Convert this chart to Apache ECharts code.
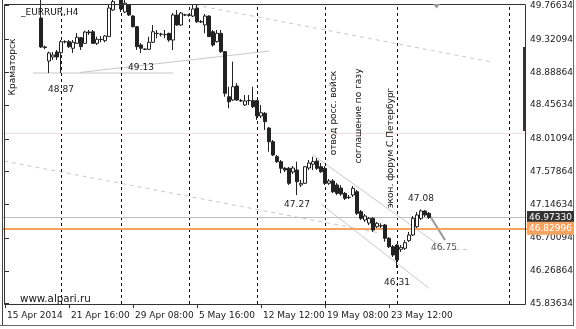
<!DOCTYPE html>
<html><head><meta charset="utf-8">
<script src="https://cdn.jsdelivr.net/npm/echarts@6/dist/echarts.min.js"></script>
<style>html,body{margin:0;padding:0;background:#fff}#c{width:576px;height:329px}</style>
</head><body><div id="c"></div>
<script>
const opens  = [50.05,50.00,49.97,49.93,49.96,49.99,49.95,49.92,49.94,49.604,49.222,49.037,49.090,49.156,49.147,49.292,49.292,49.205,49.270,49.344,49.270,49.419,49.423,49.270,49.323,49.305,49.358,49.710,49.82,49.84,49.683,49.776,49.630,49.489,49.248,49.195,49.191,49.284,49.402,49.389,49.384,49.402,49.314,49.644,49.512,49.644,49.644,49.630,49.736,49.555,49.512,49.630,49.423,49.292,49.402,49.160,48.566,48.523,48.707,48.514,48.457,48.514,48.514,48.514,48.312,48.347,48.153,47.973,47.775,47.709,47.622,47.622,47.573,47.600,47.402,47.424,47.626,47.675,47.718,47.643,47.622,47.424,47.455,47.402,47.362,47.292,47.239,47.270,47.313,47.050,46.940,46.900,46.962,46.852,46.865,46.874,46.699,46.588,46.610,46.554,46.567,46.667,46.742,46.852,46.962,47.059,47.028];
const closes = [50.00,49.97,49.93,49.96,49.99,49.95,49.92,49.94,49.90,49.222,49.216,49.143,49.116,49.090,49.292,49.290,49.226,49.284,49.350,49.226,49.419,49.410,49.270,49.323,49.320,49.367,49.736,49.82,49.85,49.723,49.80,49.644,49.489,49.226,49.205,49.191,49.284,49.423,49.400,49.392,49.386,49.314,49.644,49.512,49.670,49.646,49.640,49.723,49.555,49.552,49.630,49.358,49.248,49.402,49.160,48.611,48.500,48.698,48.523,48.512,48.510,48.516,48.434,48.312,48.355,48.237,47.973,47.797,47.709,47.622,47.600,47.424,47.626,47.445,47.424,47.643,47.692,47.709,47.622,47.577,47.424,47.455,47.313,47.292,47.283,47.226,47.237,47.358,47.028,46.962,46.993,46.962,46.808,46.897,46.863,46.699,46.588,46.479,46.413,46.580,46.641,46.742,46.962,47.006,47.059,47.006,46.973];
const lows   = [49.95,49.90,49.82,49.88,49.92,49.90,49.86,49.87,49.85,49.209,49.191,48.879,49.050,49.050,48.879,49.270,49.209,49.143,49.261,49.182,49.270,49.380,49.261,49.248,49.284,49.284,49.354,49.70,49.80,49.683,49.67,49.630,49.480,49.182,49.143,49.180,49.182,49.274,49.336,49.360,49.336,49.290,49.182,49.500,49.500,49.630,49.620,49.617,49.538,49.538,49.402,49.354,49.226,49.280,49.143,48.566,48.413,48.510,48.510,48.496,48.444,48.457,48.417,48.259,48.285,48.127,47.841,47.784,47.692,47.556,47.573,47.402,47.547,47.270,47.375,47.415,47.600,47.600,47.600,47.560,47.402,47.402,47.296,47.270,47.260,47.204,47.217,47.243,47.006,46.940,46.914,46.874,46.782,46.835,46.835,46.654,46.571,46.452,46.307,46.518,46.544,46.650,46.729,46.835,46.940,46.980,46.953];
const highs  = [50.10,50.06,50.02,50.00,50.04,50.03,49.98,49.99,49.97,49.85,49.240,49.160,49.156,49.182,49.314,49.310,49.314,49.314,49.406,49.354,49.437,49.446,49.446,49.358,49.367,49.380,49.776,49.86,49.90,49.88,49.85,49.790,49.644,49.500,49.274,49.200,49.358,49.512,49.446,49.410,49.446,49.410,49.670,49.710,49.683,49.660,49.660,49.776,49.776,49.578,49.657,49.640,49.446,49.446,49.446,49.170,48.698,49.028,48.747,48.536,48.589,48.589,48.698,48.523,48.457,48.364,48.167,47.995,47.797,47.731,47.639,47.639,47.652,47.709,47.468,47.652,47.731,47.775,47.757,47.692,47.652,47.481,47.481,47.428,47.400,47.309,47.270,47.389,47.336,47.072,47.019,46.980,46.980,46.914,46.897,46.887,46.716,46.610,46.624,46.610,46.676,46.782,46.993,47.046,47.080,47.072,47.046];

const tickIndex  = [0,16,32,48,64,80,96];
const tickLabels = ['15 Apr 2014','21 Apr 16:00','29 Apr 08:00','5 May 16:00','12 May 12:00','19 May 08:00','23 May 12:00'];
const priceTicks = [49.76634,49.32094,48.88864,48.45634,48.01094,47.57864,47.14634,46.70094,46.26864,45.83634];
const separatorBars = [14,29,46,63,80,98,126];
const bidPrice = 46.97330, askPrice = 46.82996;
const pinkLevel = 48.0875;
const barCount = 131;
const yMin = 45.8323, yMax = 49.7888;

// annotation lines: [[bar, price],[bar, price]]
const supportLine   = [[7,48.879],[42,48.879]];
const risingLine    = [[18.75,48.886],[66,49.169]];
const upperDashed   = [[47.5,49.776],[121.75,49.024]];
const lowerDashed   = [[-0.25,47.718],[93.75,46.769]];
const channelUpper  = [[77,47.797],[110,46.55]];
const channelLower  = [[79,47.15],[106,46.04]];
const projection    = [[106.25,46.993],[110,46.676]];
const projLevel     = [[106.5,46.55],[116,46.55]];

const categories = Array.from({length: barCount}, (_, i) => String(i));
const candles = opens.map((o, i) => [o, closes[i], lows[i], highs[i]]);

const FONT = 'DejaVu Sans';
const chart = echarts.init(document.getElementById('c'), null, {renderer: 'canvas'});

function lineSeries(data, color, width, type) {
  return {type: 'line', xAxisIndex: 1, yAxisIndex: 0, data: data, showSymbol: false, silent: true,
    lineStyle: {color: color, width: width, type: type}, z: 1, animation: false, clip: true};
}

chart.setOption({
  animation: false,
  backgroundColor: '#fff',
  grid: {left: 3, width: 524, top: 4, height: 300, containLabel: false},
  xAxis: [{
    type: 'category', data: categories, boundaryGap: true,
    axisLine: {show: false},
    axisTick: {show: true, alignWithLabel: true, length: 4, interval: (i) => tickIndex.includes(i), lineStyle: {color: '#333'}},
    axisLabel: {show: true, interval: (i) => tickIndex.includes(i), formatter: (v, i) => { const k = tickIndex.indexOf(Number(v)); return k >= 0 ? tickLabels[k] : ''; },
      align: 'left', margin: 7, padding: [0,0,0,2], fontFamily: FONT, fontSize: 9, color: '#1a1a1a', hideOverlap: false},
    splitLine: {show: false}
  }, {
    type: 'value', min: -0.5, max: barCount - 0.5, show: false
  }],
  yAxis: [{
    type: 'value', position: 'right', min: yMin, max: yMax, offset: -2, scale: true,
    axisLine: {show: false},
    axisTick: {show: true, length: 4, customValues: priceTicks, lineStyle: {color: '#333'}},
    axisLabel: {show: true, customValues: priceTicks, formatter: (v) => v.toFixed(5), margin: 5, fontFamily: FONT, fontSize: 9, color: '#1a1a1a'},
    splitLine: {show: false}
  }],
  series: [
    {
      type: 'candlestick', data: candles, barWidth: 3, clip: true, z: 5,
      itemStyle: {color: '#fff', color0: '#222', borderColor: '#222', borderColor0: '#222', borderColorDoji: '#222', borderWidth: 1},
      markLine: {
        silent: true, symbol: 'none', label: {show: false}, animation: false,
        data: [
          ...separatorBars.map(b => ({xAxis: b, lineStyle: {color: '#111', type: [3,3], width: 1}})),
          {yAxis: pinkLevel, lineStyle: {color: '#f7dcdc', type: 'solid', width: 1}},
          {yAxis: bidPrice, lineStyle: {color: '#c0c0c0', type: 'solid', width: 1}},
          {yAxis: askPrice, lineStyle: {color: '#f4a460', type: 'solid', width: 2}}
        ]
      }
    },
    lineSeries(supportLine, '#c8c8c8', 1, 'solid'),
    lineSeries(risingLine, '#c8c8c8', 1, 'solid'),
    lineSeries(upperDashed, '#c8c8c8', 1, [4,4]),
    lineSeries(lowerDashed, '#c8c8c8', 1, [4,4]),
    lineSeries(channelUpper, '#c8c8c8', 1, 'solid'),
    lineSeries(channelLower, '#c8c8c8', 1, 'solid'),
    lineSeries(projection, '#999', 2, 'solid'),
    lineSeries(projLevel, '#c8c8c8', 1, [4,4])
  ]
});

const yb = chart.convertToPixel({yAxisIndex: 0}, bidPrice);
const ya = chart.convertToPixel({yAxisIndex: 0}, askPrice);

function txt(x, y, s, opt) {
  return Object.assign({type: 'text', x: x, y: y, z: 40, zlevel: 0, silent: true,
    style: Object.assign({text: s, fill: '#1a1a1a', font: '9px "DejaVu Sans"', align: 'center', verticalAlign: 'middle'}, opt || {})});
}
function vtxt(x, y, s) {
  return {type: 'text', x: x, y: y, rotation: Math.PI / 2, z: 40, silent: true,
    style: {text: s, fill: '#111', font: '9px "DejaVu Sans"', align: 'center', verticalAlign: 'middle'}};
}

chart.setOption({
  graphic: [
    {type: 'rect', shape: {x: 4.5, y: 4.5, width: 521, height: 300}, style: {fill: 'none', stroke: '#333', lineWidth: 1}, z: 30, silent: true},
    {type: 'line', shape: {x1: 2.5, y1: 0, x2: 2.5, y2: 326}, style: {stroke: '#444', lineWidth: 1}, z: 30, silent: true},
    {type: 'line', shape: {x1: 573.5, y1: 0, x2: 573.5, y2: 326}, style: {stroke: '#666', lineWidth: 1}, z: 30, silent: true},
    {type: 'line', shape: {x1: 0, y1: 325.5, x2: 574, y2: 325.5}, style: {stroke: '#666', lineWidth: 1}, z: 30, silent: true},
    {type: 'rect', shape: {x: 523, y: 47, width: 3, height: 84}, style: {fill: '#333'}, z: 30, silent: true},
    {type: 'polygon', shape: {points: [[433, 4], [440, 4], [436.5, 8.5]]}, style: {fill: '#999'}, z: 30, silent: true},
    {type: 'rect', shape: {x: 527, y: yb - 6.5, width: 47, height: 13}, style: {fill: '#333'}, z: 31, silent: true},
    {type: 'rect', shape: {x: 527, y: ya - 6.5, width: 47, height: 13}, style: {fill: '#f4a460'}, z: 31, silent: true},
    txt(550.5, yb, bidPrice.toFixed(5), {fill: '#fff'}),
    txt(550.5, ya, askPrice.toFixed(5), {fill: '#fff'}),
    txt(21, 12.5, '_EURRUR,H4', {align: 'left', fill: '#111'}),
    txt(20, 299, 'www.alpari.ru', {align: 'left', font: '10.3px "DejaVu Sans"', fill: '#111'}),
    txt(61, 89.5, '48.87'),
    txt(141, 68, '49.13'),
    txt(297, 205, '47.27'),
    txt(397, 283, '46.31'),
    txt(421, 199, '47.08'),
    txt(444, 248, '46.75', {fill: '#555'}),
    vtxt(13, 67, 'Краматорск'),
    vtxt(334, 113, 'отвод росс. войск'),
    vtxt(359, 116, 'соглашение по газу'),
    vtxt(391, 148, 'экон. форум С.Петербург')
  ]
});
</script></body></html>
